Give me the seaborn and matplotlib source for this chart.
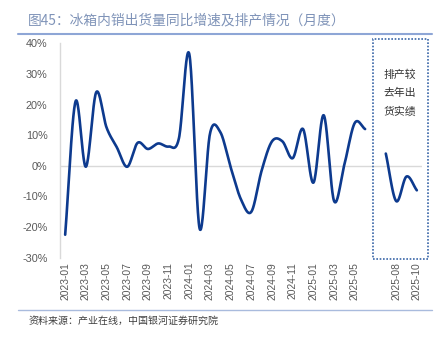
import numpy as np
import pandas as pd
import matplotlib
matplotlib.use("Agg")
import matplotlib.pyplot as plt
import seaborn as sns
from matplotlib.patches import Rectangle
from matplotlib.lines import Line2D

# ---------------- data ----------------
months_actual = ["2023-01", "2023-02", "2023-03", "2023-04", "2023-05", "2023-06",
                 "2023-07", "2023-08", "2023-09", "2023-10", "2023-11", "2023-12",
                 "2024-01", "2024-02", "2024-03", "2024-04", "2024-05", "2024-06",
                 "2024-07", "2024-08", "2024-09", "2024-10", "2024-11", "2024-12",
                 "2025-01", "2025-02", "2025-03", "2025-04", "2025-05", "2025-06"]
yoy_actual = [-22.5, 21.0, -0.3, 24.0, 12.5, 6.0, -0.3, 7.5, 5.5, 7.3, 6.3, 9.0,
              36.5, -20.5, 10.5, 11.0, -0.5, -11.0, -15.0, -1.5, 8.0, 8.0, 2.5, 12.0,
              -5.5, 16.5, -11.5, 0.5, 14.0, 12.0]
months_plan = ["2025-07", "2025-08", "2025-09", "2025-10"]
yoy_plan = [4.0, -11.5, -3.5, -8.0]

categories = months_actual + [""] + months_plan
y_ticks = [-30, -20, -10, 0, 10, 20, 30, 40]
title = "图45：冰箱内销出货量同比增速及排产情况（月度）"
source = "资料来源：产业在线，中国银河证券研究院"
box_note = "排产较\n去年出\n货实绩"

# ---------------- style ----------------
sns.set_theme(style="white")
plt.rcParams['font.family'] = ['Noto Sans CJK SC', 'DejaVu Sans']
LINE_C = "#0D3A8E"
GRAY_T = "#595959"


def smooth(xs, ys, n=24):
    """Catmull-Rom style smoothing for rendering (like Excel smoothed lines)."""
    xs = np.asarray(xs, float)
    ys = np.asarray(ys, float)
    px, py = [], []
    for i in range(len(xs) - 1):
        x0, x1 = xs[i], xs[i + 1]
        y0, y1 = ys[i], ys[i + 1]
        ym = ys[i - 1] if i > 0 else y0
        yp = ys[i + 2] if i + 2 < len(ys) else y1
        m0 = (y1 - ym) / 2 if i > 0 else (y1 - y0)
        m1 = (yp - y0) / 2 if i + 2 < len(ys) else (y1 - y0)
        t = np.linspace(0, 1, n, endpoint=False)
        h00 = 2 * t**3 - 3 * t**2 + 1
        h10 = t**3 - 2 * t**2 + t
        h01 = -2 * t**3 + 3 * t**2
        h11 = t**3 - t**2
        px.extend(x0 + (x1 - x0) * t)
        py.extend(h00 * y0 + h10 * m0 + h01 * y1 + h11 * m1)
    px.append(xs[-1])
    py.append(ys[-1])
    return np.array(px), np.array(py)


fig = plt.figure(figsize=(4.45, 3.38), dpi=100)
ax = fig.add_axes([60 / 445, 1 - 257.7 / 338, 362 / 445, 214.4 / 338])

x_act = np.arange(len(months_actual))
x_plan = np.arange(len(months_plan)) + len(months_actual) + 1

sx, sy = smooth(x_act, yoy_actual)
df1 = pd.DataFrame({"x": sx, "y": sy})
sns.lineplot(data=df1, x="x", y="y", ax=ax, color=LINE_C, lw=1.9, sort=False,
             estimator=None)
sx2, sy2 = smooth(x_plan, yoy_plan)
df2 = pd.DataFrame({"x": sx2, "y": sy2})
sns.lineplot(data=df2, x="x", y="y", ax=ax, color=LINE_C, lw=1.9, sort=False,
             estimator=None)

ax.set_xlim(-0.5, len(categories) - 0.5)
ax.set_ylim(-30, 40)
ax.set_yticks(y_ticks)
ax.set_yticklabels([f"{v}%" for v in y_ticks], color=GRAY_T, fontsize=7.8,
                   family=['Liberation Sans', 'DejaVu Sans'])
tick_pos = list(range(0, len(categories), 2))
ax.set_xticks(tick_pos)
ax.set_xticklabels([categories[i] for i in tick_pos], rotation=90, color=GRAY_T,
                   fontsize=7.4, family=['Liberation Sans', 'DejaVu Sans'])
ax.tick_params(axis='both', length=0, pad=3)
ax.tick_params(axis='y', pad=9)
ax.set_xlabel("")
ax.set_ylabel("")
ax.axhline(0, color="#D9D9D9", lw=1.0, zorder=0)
for s in ["top", "right", "bottom"]:
    ax.spines[s].set_visible(False)
ax.spines["left"].set_color("#D9D9D9")
ax.spines["left"].set_linewidth(1.0)
ax.grid(False)

# title and rules
fig.text(28 / 445, 1 - 20 / 338, title, color="#7F93B8", fontsize=9.9,
         ha="left", va="center")
fig.add_artist(Line2D([18 / 445, 432 / 445], [1 - 33.5 / 338, 1 - 33.5 / 338],
                      color="#8EA6D6", lw=1.5, transform=fig.transFigure))
fig.add_artist(Line2D([18 / 445, 432 / 445], [1 - 309.5 / 338, 1 - 309.5 / 338],
                      color="#A9BBDD", lw=1.0, transform=fig.transFigure))
fig.text(29 / 445, 1 - 321 / 338, source, color="#404040", fontsize=7.2,
         ha="left", va="center", style="italic")

# dotted box with note
fig.add_artist(Rectangle((373 / 445, 1 - 259 / 338), 55 / 445, 220 / 338,
                         transform=fig.transFigure, fill=False,
                         edgecolor="#3A66A8", lw=1.2, linestyle=(0, (1, 1))))
fig.text(400 / 445, 1 - 93 / 338, box_note, color="#333333", fontsize=7.8,
         ha="center", va="center", linespacing=1.95)

fig.savefig("out.png", dpi=100)
